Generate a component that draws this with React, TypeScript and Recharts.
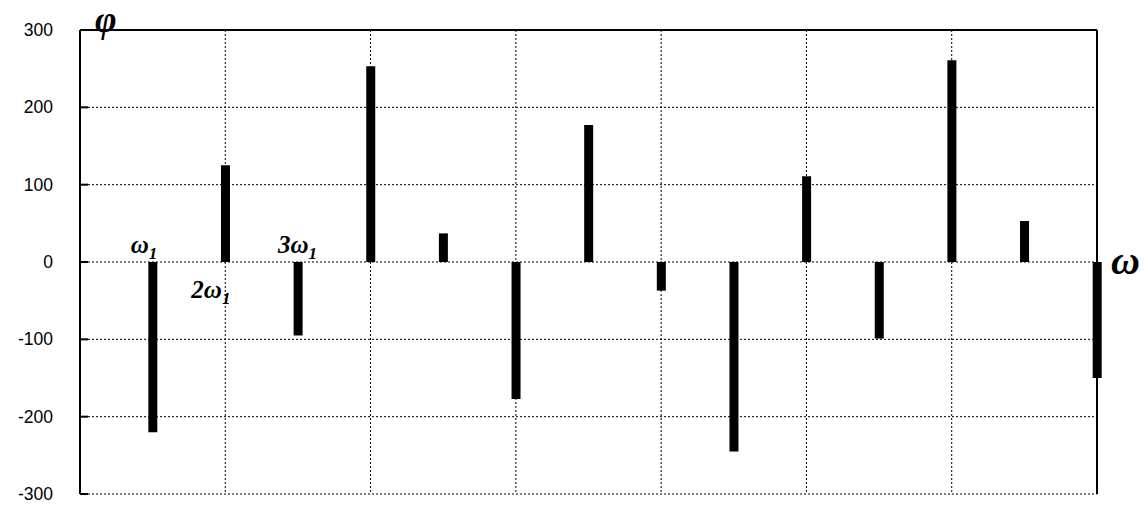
import {
  Bar,
  CartesianGrid,
  ComposedChart,
  ReferenceDot,
  ReferenceLine,
  XAxis,
  YAxis,
} from "recharts";

// harmonic number k (k * ω1) and phase φ
const harmonics = [1, 2, 3, 4, 5, 6, 7, 8, 9, 10, 11, 12, 13, 14];
const phases = [-220, 125, -95, 253, 37, -177, 177, -37, -245, 111, -99, 261, 53, -150];
const yTicks = [-300, -200, -100, 0, 100, 200, 300];
const xTicks = [0, 2, 4, 6, 8, 10, 12, 14];

const data = harmonics.map((k, i) => ({ k, phi: phases[i] }));

const SERIF = "'Liberation Serif', 'DejaVu Serif', serif";
const SANS = "'Liberation Sans', Arial, sans-serif";
const LABEL_MARGIN = 27;

function YTick(props: any) {
  const { x, y, payload } = props;
  return (
    <g>
      <text
        x={x}
        y={y}
        dy={6}
        textAnchor="end"
        fontFamily={SANS}
        fontSize={17.5}
        fill="#000"
      >
        {payload.value}
      </text>
      <line x1={x + LABEL_MARGIN} x2={x + LABEL_MARGIN + 8} y1={y} y2={y} stroke="#000" strokeWidth={2} />
    </g>
  );
}

function XTick(props: any) {
  const { x, y } = props;
  return <line x1={x} x2={x} y1={y} y2={y - 7} stroke="#000" strokeWidth={2} />;
}

function harmonicLabel(prefix: string, dx: number, dy: number) {
  return ({ viewBox }: any) => {
    const cx = viewBox.x + viewBox.width / 2;
    const cy = viewBox.y + viewBox.height / 2;
    return (
      <text
        x={cx + dx}
        y={cy + dy}
        fontFamily={SERIF}
        fontStyle="italic"
        fontWeight="bold"
        fontSize={25}
        fill="#000"
      >
        {prefix}ω
        <tspan fontSize={17} dy={6}>
          1
        </tspan>
      </text>
    );
  };
}

function bigSymbol(sym: string, dx: number, dy: number, size: number) {
  return ({ viewBox }: any) => {
    const cx = viewBox.x + viewBox.width / 2;
    const cy = viewBox.y + viewBox.height / 2;
    return (
      <text
        x={cx + dx}
        y={cy + dy}
        fontFamily={SERIF}
        fontStyle="italic"
        fontWeight="bold"
        fontSize={size}
        fill="#000"
      >
        {sym}
      </text>
    );
  };
}

export default function App() {
  return (
    <div style={{ position: "absolute", left: 0, top: 0, width: 1144, height: 508, background: "#fff" }}>
      <ComposedChart
        width={1144}
        height={508}
        data={data}
        margin={{ top: 30, right: 47, bottom: 14, left: 0 }}
      >
        <CartesianGrid stroke="#000" strokeDasharray="2 2" strokeWidth={1} />
        <XAxis
          dataKey="k"
          type="number"
          domain={[0, 14]}
          ticks={xTicks}
          height={0}
          tickSize={0}
          tickMargin={0}
          tick={<XTick />}
          axisLine={{ stroke: "#000", strokeWidth: 2 }}
          tickLine={false}
        />
        <YAxis
          type="number"
          domain={[-300, 300]}
          ticks={yTicks}
          width={80}
          tickSize={0}
          tickMargin={LABEL_MARGIN}
          tick={<YTick />}
          axisLine={{ stroke: "#000", strokeWidth: 2 }}
          tickLine={false}
        />
        <ReferenceLine y={300} stroke="#000" strokeWidth={2} />
        <ReferenceLine x={14} stroke="#000" strokeWidth={2} />
        <Bar dataKey="phi" fill="#000" barSize={9} isAnimationActive={false} />
        <ReferenceDot x={1} y={0} r={0} ifOverflow="visible" label={harmonicLabel("", -22, -9)} />
        <ReferenceDot x={2} y={0} r={0} ifOverflow="visible" label={harmonicLabel("2", -34, 36)} />
        <ReferenceDot x={3} y={0} r={0} ifOverflow="visible" label={harmonicLabel("3", -20, -9)} />
        <ReferenceDot x={0} y={300} r={0} ifOverflow="visible" label={bigSymbol("φ", 15, 2, 37)} />
        <ReferenceDot x={14} y={0} r={0} ifOverflow="visible" label={bigSymbol("ω", 14, 12, 40)} />
      </ComposedChart>
    </div>
  );
}
